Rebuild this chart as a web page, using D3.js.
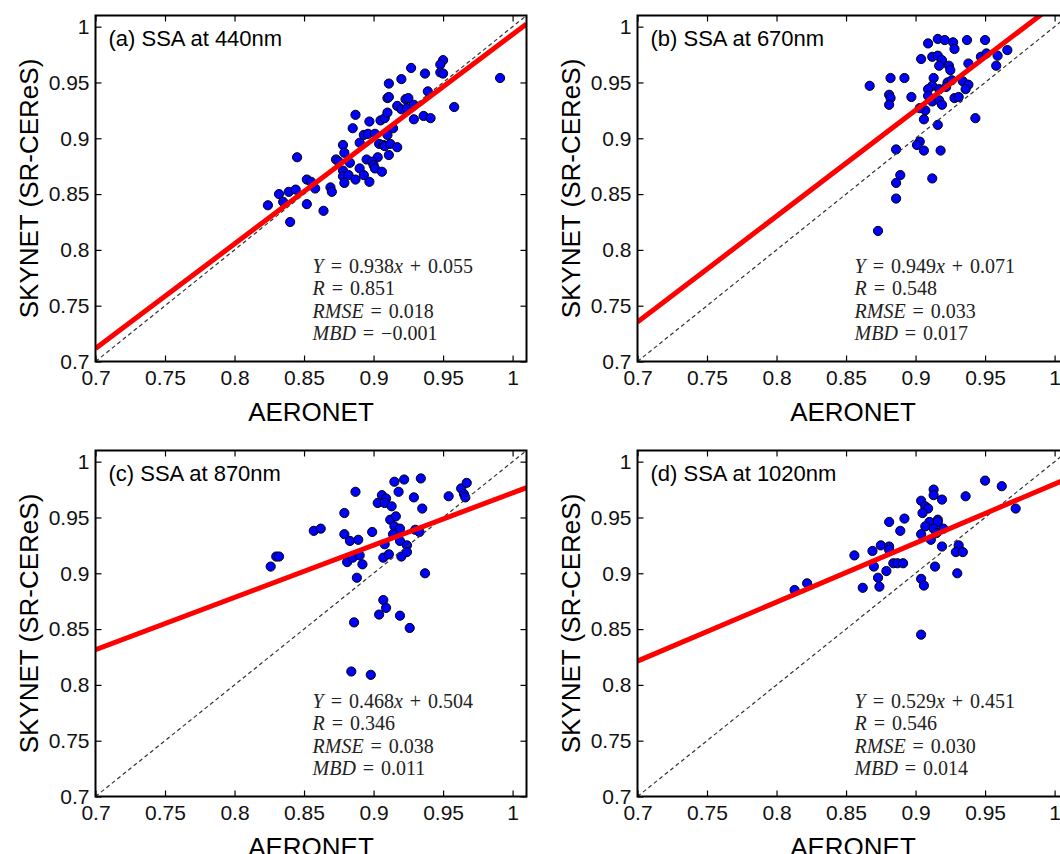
<!DOCTYPE html>
<html>
<head>
<meta charset="utf-8">
<script src="https://cdn.jsdelivr.net/npm/d3@7"></script>
<style>
  body { margin: 0; background: white; }
  text { font-family: "Liberation Sans", Arial, Helvetica, sans-serif; }
  .stats text { font-family: "Liberation Serif", "Times New Roman", serif; }
</style>
</head>
<body>
<div id="rys"></div>
<script>
// axis ticks (both axes share them)
var tickValues = [0.7, 0.75, 0.8, 0.85, 0.9, 0.95, 1];
var tickLabels = ["0.7", "0.75", "0.8", "0.85", "0.9", "0.95", "1"];
var axisDomain = [0.7, 1.01];

var titles = ["(a) SSA at 440nm", "(b) SSA at 670nm", "(c) SSA at 870nm", "(d) SSA at 1020nm"];
var xLabel = "AERONET";
var yLabel = "SKYNET (SR-CEReS)";

// [AERONET, SKYNET] pairs
var ssa440 = [
  [0.950,0.970],[0.948,0.966],[0.948,0.959],[0.950,0.958],[0.927,0.963],[0.937,0.958],[0.920,0.953],[0.991,0.954],
  [0.911,0.949],[0.939,0.942],[0.910,0.936],[0.911,0.937],[0.923,0.935],[0.925,0.936],[0.917,0.929],[0.920,0.926],
  [0.924,0.927],[0.929,0.930],[0.958,0.928],[0.887,0.921],[0.897,0.915],[0.905,0.916],[0.908,0.918],[0.910,0.923],
  [0.929,0.917],[0.936,0.920],[0.941,0.918],[0.885,0.909],[0.914,0.909],[0.893,0.903],[0.896,0.904],[0.901,0.904],
  [0.910,0.903],[0.878,0.894],[0.890,0.896],[0.904,0.895],[0.907,0.894],[0.908,0.893],[0.912,0.895],[0.917,0.892],
  [0.879,0.887],[0.911,0.885],[0.845,0.883],[0.873,0.881],[0.875,0.879],[0.883,0.878],[0.895,0.881],[0.903,0.883],
  [0.899,0.879],[0.900,0.876],[0.878,0.871],[0.890,0.873],[0.893,0.867],[0.901,0.873],[0.906,0.870],[0.878,0.866],
  [0.882,0.867],[0.879,0.860],[0.887,0.863],[0.897,0.861],[0.852,0.863],[0.855,0.861],[0.858,0.855],[0.869,0.856],
  [0.870,0.852],[0.832,0.850],[0.839,0.852],[0.844,0.854],[0.835,0.843],[0.824,0.840],[0.852,0.841],[0.864,0.835],
  [0.840,0.825]
];
var ssa670 = [
  [0.916,0.989],[0.921,0.988],[0.909,0.985],[0.927,0.986],[0.937,0.988],[0.950,0.988],[0.928,0.980],[0.912,0.973],
  [0.916,0.974],[0.904,0.971],[0.919,0.970],[0.917,0.965],[0.924,0.965],[0.925,0.961],[0.938,0.967],[0.947,0.973],
  [0.951,0.976],[0.959,0.974],[0.966,0.979],[0.958,0.965],[0.867,0.947],[0.882,0.954],[0.892,0.954],[0.913,0.954],
  [0.912,0.947],[0.909,0.944],[0.917,0.944],[0.923,0.950],[0.926,0.952],[0.934,0.951],[0.938,0.948],[0.936,0.944],
  [0.922,0.946],[0.881,0.939],[0.882,0.936],[0.897,0.937],[0.909,0.938],[0.912,0.933],[0.917,0.934],[0.919,0.930],
  [0.928,0.936],[0.931,0.937],[0.881,0.930],[0.907,0.925],[0.903,0.927],[0.906,0.917],[0.916,0.912],[0.943,0.918],
  [0.903,0.897],[0.901,0.894],[0.906,0.889],[0.918,0.889],[0.886,0.890],[0.889,0.867],[0.886,0.860],[0.912,0.864],
  [0.886,0.846],[0.873,0.817]
];
var ssa870 = [
  [0.915,0.982],[0.922,0.984],[0.934,0.985],[0.887,0.973],[0.918,0.973],[0.906,0.970],[0.909,0.967],[0.903,0.963],
  [0.908,0.963],[0.913,0.960],[0.929,0.968],[0.935,0.958],[0.954,0.969],[0.963,0.976],[0.967,0.981],[0.965,0.971],
  [0.966,0.968],[0.879,0.954],[0.912,0.948],[0.916,0.951],[0.915,0.942],[0.919,0.940],[0.930,0.939],[0.933,0.937],
  [0.857,0.938],[0.862,0.940],[0.879,0.935],[0.899,0.937],[0.883,0.929],[0.889,0.930],[0.914,0.935],[0.919,0.929],
  [0.908,0.926],[0.924,0.925],[0.830,0.915],[0.832,0.915],[0.826,0.906],[0.881,0.910],[0.885,0.914],[0.890,0.916],
  [0.892,0.908],[0.907,0.914],[0.911,0.917],[0.920,0.915],[0.924,0.919],[0.888,0.896],[0.937,0.900],[0.907,0.876],
  [0.909,0.869],[0.904,0.863],[0.919,0.862],[0.886,0.856],[0.926,0.851],[0.884,0.812],[0.898,0.809]
];
var ssa1020 = [
  [0.950,0.983],[0.962,0.978],[0.913,0.975],[0.913,0.970],[0.919,0.966],[0.936,0.969],[0.904,0.965],[0.907,0.960],
  [0.909,0.958],[0.905,0.954],[0.972,0.958],[0.881,0.946],[0.892,0.949],[0.910,0.946],[0.916,0.948],[0.916,0.946],
  [0.907,0.942],[0.889,0.938],[0.913,0.940],[0.920,0.940],[0.904,0.935],[0.911,0.930],[0.915,0.936],[0.875,0.925],
  [0.881,0.924],[0.869,0.920],[0.881,0.921],[0.856,0.916],[0.919,0.924],[0.931,0.925],[0.929,0.919],[0.934,0.919],
  [0.870,0.906],[0.884,0.909],[0.887,0.909],[0.891,0.909],[0.879,0.902],[0.914,0.906],[0.873,0.896],[0.904,0.895],
  [0.930,0.900],[0.862,0.887],[0.874,0.888],[0.906,0.889],[0.822,0.891],[0.904,0.845],[0.813,0.885]
];

// fit [slope, intercept] and [R, RMSE, MBD]
var fits = [[0.938, 0.055], [0.949, 0.071], [0.468, 0.504], [0.529, 0.451]];
var stats = [[0.851, 0.018, -0.001], [0.548, 0.033, 0.017], [0.346, 0.038, 0.011], [0.546, 0.030, 0.014]];
var statNames = ["R", "RMSE", "MBD"];

var width = 431, height = 346;
var origins = [[95.5, 15.5], [637.5, 15.5], [95.5, 450.5], [637.5, 450.5]];
var allData = [ssa440, ssa670, ssa870, ssa1020];

var svg = d3.select("#rys")
  .append("svg")
  .attr("width", 1060)
  .attr("height", 854)
  .style("background", "white");

function fmt(v) {
  var s = Math.abs(v).toFixed(3);
  return (v < 0 ? "\u2212" : "") + s;
}

function create_panel(i)
{
  var g = svg.append("g")
    .attr("transform", "translate(" + origins[i][0] + "," + origins[i][1] + ")");

  var xs = d3.scaleLinear().domain(axisDomain).range([0, width]);
  var ys = d3.scaleLinear().domain(axisDomain).range([height, 0]);

  g.append("clipPath").attr("id", "clip" + i)
    .append("rect").attr("width", width).attr("height", height);

  var labelFmt = function (d) { return tickLabels[tickValues.indexOf(d)]; };

  var xAxis = g.append("g")
    .attr("transform", "translate(0," + height + ")")
    .call(d3.axisBottom(xs).tickValues(tickValues).tickFormat(labelFmt).tickSize(-6).tickPadding(9));
  var yAxis = g.append("g")
    .call(d3.axisLeft(ys).tickValues(tickValues).tickFormat(labelFmt).tickSize(-6).tickPadding(6));
  g.append("g")
    .call(d3.axisTop(xs).tickValues(tickValues).tickFormat("").tickSize(-6));
  g.append("g")
    .attr("transform", "translate(" + width + ",0)")
    .call(d3.axisRight(ys).tickValues(tickValues).tickFormat("").tickSize(-6));

  g.selectAll(".domain").remove();
  g.selectAll(".tick line").attr("stroke", "#000").attr("stroke-width", 1.2);
  [xAxis, yAxis].forEach(function (a) {
    a.attr("font-family", null).attr("font-size", null);
    a.selectAll("text").style("font-size", "21px").attr("fill", "#111");
  });

  var plot = g.append("g").attr("clip-path", "url(#clip" + i + ")");

  plot.selectAll("circle")
    .data(allData[i])
    .enter().append("circle")
    .attr("cx", d => xs(d[0]))
    .attr("cy", d => ys(d[1]))
    .attr("r", 4.6)
    .attr("fill", "#0000ff")
    .attr("stroke", "#000")
    .attr("stroke-width", 1);

  // 1:1 line
  plot.append("path")
    .datum(axisDomain)
    .attr("d", d3.line().x(d => xs(d)).y(d => ys(d)))
    .attr("fill", "none")
    .attr("stroke", "#333")
    .attr("stroke-width", 1.2)
    .attr("stroke-dasharray", "4,3");

  // regression line
  var f = fits[i];
  plot.append("path")
    .datum(axisDomain)
    .attr("d", d3.line().x(d => xs(d)).y(d => ys(f[0] * d + f[1])))
    .attr("fill", "none")
    .attr("stroke", "#ff0000")
    .attr("stroke-width", 5);

  g.append("rect")
    .attr("width", width).attr("height", height)
    .attr("fill", "none").attr("stroke", "#000").attr("stroke-width", 2);

  g.append("text")
    .attr("x", 13).attr("y", 30)
    .style("font-size", "22px")
    .text(titles[i]);

  var st = g.append("g").attr("class", "stats")
    .attr("transform", "translate(217,257)")
    .style("font-size", "20px")
    .style("word-spacing", "2px")
    .attr("fill", "#222");

  var l1 = st.append("text").attr("y", 0);
  l1.append("tspan").style("font-style", "italic").text("Y");
  l1.append("tspan").text(" = " + fmt(f[0]));
  l1.append("tspan").style("font-style", "italic").text("x");
  l1.append("tspan").text(" + " + fmt(f[1]));

  statNames.forEach(function (n, k) {
    var t = st.append("text").attr("y", 22.5 * (k + 1));
    t.append("tspan").style("font-style", "italic").text(n);
    t.append("tspan").text(" = " + fmt(stats[i][k]));
  });

  g.append("text")
    .attr("x", width / 2).attr("y", height + 59)
    .attr("text-anchor", "middle")
    .style("font-size", "26px")
    .text(xLabel);

  g.append("text")
    .attr("transform", "translate(-67," + (height / 2) + ")rotate(-90)")
    .attr("text-anchor", "middle")
    .attr("dy", "0.35em")
    .style("font-size", "26px")
    .text(yLabel);
}

for (var i = 0; i < 4; i++) create_panel(i);
</script>
</body>
</html>
